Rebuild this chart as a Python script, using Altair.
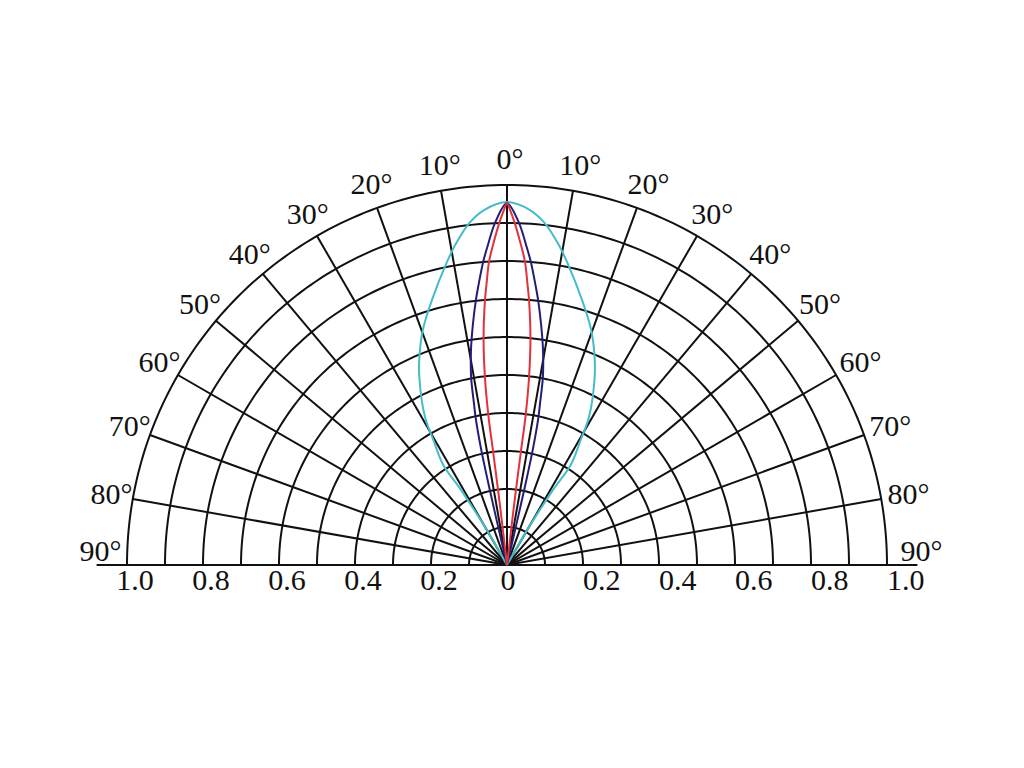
import altair as alt
import pandas as pd
import numpy as np

# ---------------- data ----------------
RING_RADII = [0.1, 0.2, 0.3, 0.4, 0.5, 0.6, 0.7, 0.8, 0.9, 1.0]
SPOKE_ANGLES = [-90, -80, -70, -60, -50, -40, -30, -20, -10, 0,
                10, 20, 30, 40, 50, 60, 70, 80, 90]
BASELINE_EXTENT = [-1.08, 1.08]

RADIAL_TICKS_LEFT = [-1.0, -0.8, -0.6, -0.4, -0.2]
RADIAL_LABELS_LEFT = ["1.0", "0.8", "0.6", "0.4", "0.2"]
RADIAL_TICKS_MID = [0.0]
RADIAL_LABELS_MID = ["0"]
RADIAL_TICKS_RIGHT = [0.2, 0.4, 0.6, 0.8, 1.0]
RADIAL_LABELS_RIGHT = ["0.2", "0.4", "0.6", "0.8", "1.0"]

DEG_ANGLES = [-80, -70, -60, -50, -40, -30, -20, -10, 0,
              10, 20, 30, 40, 50, 60, 70, 80]
DEG_LABELS = ["80°", "70°", "60°", "50°", "40°", "30°", "20°", "10°", "0°",
              "10°", "20°", "30°", "40°", "50°", "60°", "70°", "80°"]

# right half of each lobe, from the peak down to the origin (deg, relative intensity)
CYAN_THETA = [0.0, 3.7, 6.3, 9.2, 11.2, 15.8, 19.7, 22.6, 25.0, 29.0, 30.5, 32.5, 31.5, 30.1, 30.0]
CYAN_R = [0.955, 0.936, 0.905, 0.853, 0.813, 0.725, 0.657, 0.599, 0.546, 0.445, 0.382, 0.312, 0.232, 0.116, 0.0]

NAVY_THETA = [0.0, 2.0, 3.4, 4.5, 5.8, 6.7, 8.1, 9.5, 10.8, 11.6, 12.0, 12.6, 12.9, 13.0, 13.0]
NAVY_R = [0.952, 0.901, 0.844, 0.800, 0.741, 0.702, 0.638, 0.574, 0.504, 0.430, 0.398, 0.311, 0.203, 0.103, 0.0]

RED_THETA = [0.0, 0.5, 1.3, 2.5, 3.4, 4.2, 4.75, 5.9, 6.7, 7.1, 7.0, 6.8, 6.7, 6.7]
RED_R = [0.952, 0.934, 0.900, 0.843, 0.799, 0.739, 0.700, 0.600, 0.498, 0.393, 0.306, 0.199, 0.101, 0.0]

SERIES = ["cyan", "navy", "red"]
COLORS = ["#45BCC8", "#221E78", "#E2323C"]

# ---------------- layout ----------------
W, H = 1000, 740
CX, CY = 499.0, 557.0      # pixel position of origin inside plot area
PX_PER_UNIT = 380.0
XMIN = -CX / PX_PER_UNIT
XMAX = XMIN + W / PX_PER_UNIT
YMAX = CY / PX_PER_UNIT
YMIN = YMAX - H / PX_PER_UNIT

FONT = "Liberation Serif"
FS = 30
GRID_W = 2.0

xs = alt.Scale(domain=[XMIN, XMAX], nice=False, zero=False)
ys = alt.Scale(domain=[YMIN, YMAX], nice=False, zero=False)

# ---------------- tables ----------------
ring_rows = []
for r in RING_RADII:
    for k, t in enumerate(np.arange(-90.0, 90.01, 1.0)):
        ring_rows.append({"ring": r, "order": k, "theta": float(t), "r": r})
ring_df = pd.DataFrame(ring_rows)

spoke_df = pd.DataFrame({"theta": SPOKE_ANGLES})

curve_rows = []
for name, th, rr in [("cyan", CYAN_THETA, CYAN_R),
                     ("navy", NAVY_THETA, NAVY_R),
                     ("red", RED_THETA, RED_R)]:
    pts = [(-t, r) for t, r in zip(th[::-1], rr[::-1])] + list(zip(th[1:], rr[1:]))
    for k, (t, r) in enumerate(pts):
        curve_rows.append({"series": name, "order": k, "theta": t, "r": r})
curve_df = pd.DataFrame(curve_rows)

polar = dict(
    x="datum.r * sin(datum.theta * PI / 180)",
    y="datum.r * cos(datum.theta * PI / 180)",
)

rings = alt.Chart(ring_df).mark_line(color="#111", strokeWidth=GRID_W).transform_calculate(
    **polar
).encode(
    x=alt.X("x:Q", scale=xs, axis=None),
    y=alt.Y("y:Q", scale=ys, axis=None),
    detail="ring:N",
    order="order:Q",
)

spokes = alt.Chart(spoke_df).mark_rule(color="#111", strokeWidth=GRID_W).transform_calculate(
    x0="0", y0="0",
    x1="sin(datum.theta * PI / 180)",
    y1="cos(datum.theta * PI / 180)",
).encode(
    x=alt.X("x0:Q", scale=xs, axis=None),
    y=alt.Y("y0:Q", scale=ys, axis=None),
    x2="x1:Q",
    y2="y1:Q",
)

baseline = alt.Chart(pd.DataFrame({"a": [BASELINE_EXTENT[0]], "b": [BASELINE_EXTENT[1]], "y": [0.0]})).mark_rule(
    color="#111", strokeWidth=GRID_W
).encode(
    x=alt.X("a:Q", scale=xs, axis=None),
    x2="b:Q",
    y=alt.Y("y:Q", scale=ys, axis=None),
)

curves = alt.Chart(curve_df).mark_line(strokeWidth=2, interpolate="catmull-rom").transform_calculate(
    **polar
).encode(
    x=alt.X("x:Q", scale=xs, axis=None),
    y=alt.Y("y:Q", scale=ys, axis=None),
    color=alt.Color("series:N", scale=alt.Scale(domain=SERIES, range=COLORS), legend=None),
    order="order:Q",
)

LABEL_Y = -0.043


def radial_text(ticks, labels, align, dx):
    df = pd.DataFrame({"x": ticks, "label": labels, "y": [LABEL_Y] * len(ticks)})
    return alt.Chart(df).mark_text(
        font=FONT, fontSize=FS, color="#111", align=align, baseline="middle", dx=dx
    ).encode(
        x=alt.X("x:Q", scale=xs, axis=None),
        y=alt.Y("y:Q", scale=ys, axis=None),
        text="label:N",
    )


rad_left = radial_text(RADIAL_TICKS_LEFT, RADIAL_LABELS_LEFT, "center", 8)
rad_mid = radial_text(RADIAL_TICKS_MID, RADIAL_LABELS_MID, "center", 1)
rad_right = radial_text(RADIAL_TICKS_RIGHT, RADIAL_LABELS_RIGHT, "left", 0)

LABEL_R = 1.065
deg_df = pd.DataFrame({"theta": DEG_ANGLES, "label": DEG_LABELS, "r": [LABEL_R] * len(DEG_ANGLES)})
deg_text = alt.Chart(deg_df).mark_text(
    font=FONT, fontSize=FS, color="#111", align="center", baseline="middle", dx=3
).transform_calculate(**polar).encode(
    x=alt.X("x:Q", scale=xs, axis=None),
    y=alt.Y("y:Q", scale=ys, axis=None),
    text="label:N",
)


def side_text(sign, dx):
    df = pd.DataFrame({"s": [sign], "label": ["90°"]})
    return alt.Chart(df).mark_text(
        font=FONT, fontSize=FS, color="#111", align="center", baseline="bottom", dy=2, dx=dx
    ).transform_calculate(
        x="datum.s * 1.07", y="0"
    ).encode(
        x=alt.X("x:Q", scale=xs, axis=None),
        y=alt.Y("y:Q", scale=ys, axis=None),
        text="label:N",
    )


chart = alt.layer(
    rings, spokes, baseline, curves, rad_left, rad_mid, rad_right, deg_text,
    side_text(-1, 0), side_text(1, 8)
).properties(
    width=W, height=H, autosize=alt.AutoSizeParams(type="none"), padding=0
).configure_view(stroke=None)

chart.save("out.html", embed_options={"renderer": "svg", "actions": False})
